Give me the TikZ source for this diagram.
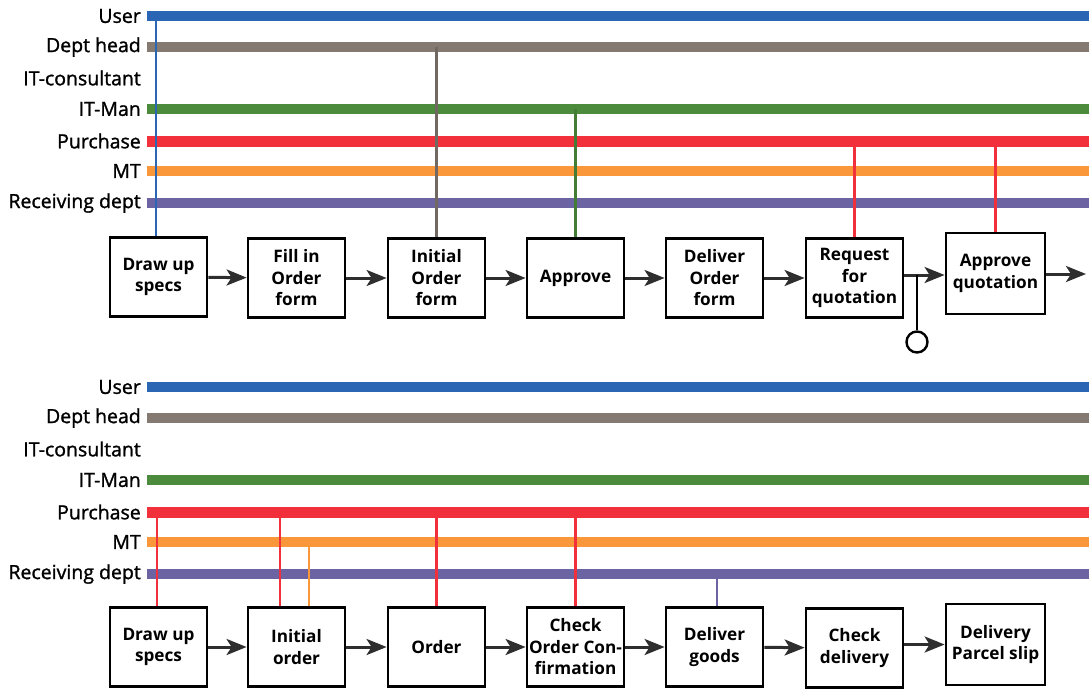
\documentclass[tikz,border=0pt]{standalone}
\usepackage{fontspec}
\setmainfont{Open Sans}
\newfontfamily\lanefont{Open Sans}[FakeBold=1.3]
\usetikzlibrary{arrows.meta}
\definecolor{cUser}{HTML}{2A66B4}
\definecolor{cHead}{HTML}{857A72}
\definecolor{cIT}{HTML}{4C8A3C}
\definecolor{cPur}{HTML}{F2303C}
\definecolor{cMT}{HTML}{F9973A}
\definecolor{cRec}{HTML}{6C64A2}
\definecolor{cArr}{HTML}{2E2E2E}
\begin{document}
\begin{tikzpicture}[x=1pt,y=-1pt,
  lanelabel/.style={anchor=east,inner sep=0pt,font=\lanefont\fontsize{19.5}{22}\selectfont},
  lane/.style={line width=9.5pt},
  wide lane/.style={line width=11pt},
  stepbox/.style={draw=black,line width=2.8pt,fill=white,minimum width=97pt,minimum height=79pt,
    align=center,inner sep=2pt,font=\bfseries\fontsize{17.2}{21.5}\selectfont},
  flow/.style={draw=cArr,line width=3pt,-{Stealth[length=20pt,width=16pt,inset=5pt]}},
  link/.style={line width=2.6pt},
]
\useasboundingbox (0,0) rectangle (1092,691);

% ---------- lanes ----------
\foreach \n/\t/\y in {ua/User/16, ha/Dept head/47, ca/IT-consultant/78, ia/IT-Man/109,
                      pa/Purchase/141, ma/MT/171, ra/Receiving dept/203,
                      ub/User/387, hb/Dept head/418, cb/IT-consultant/449, ib/IT-Man/480,
                      pb/Purchase/512, mb/MT/542, rb/Receiving dept/574}
  \node[lanelabel] (\n) at (141,\y) {\t};
\foreach \n/\c in {ua/cUser, ha/cHead, ia/cIT, ma/cMT, ra/cRec,
                   ub/cUser, hb/cHead, ib/cIT, mb/cMT, rb/cRec}
  \draw[lane,draw=\c] ([xshift=6pt]\n.east) -- ([xshift=6pt]\n.east -| 1083,0);
\foreach \n in {pa,pb}
  \draw[wide lane,draw=cPur] ([xshift=6pt]\n.east) -- ([xshift=6pt]\n.east -| 1083,0);

% ---------- process steps, upper chart ----------
\node[stepbox] (a1) at (158.5,277) {Draw up\\specs};
\node[stepbox] (a2) at (296.5,278) {Fill in\\Order\\form};
\node[stepbox] (a3) at (436.5,278) {Initial\\Order\\form};
\node[stepbox] (a4) at (575.5,278) {Approve};
\node[stepbox] (a5) at (714.5,278) {Deliver\\Order\\form};
\node[stepbox] (a6) at (854.5,278) {Request\\for\\quotation};
\node[stepbox,minimum width=99pt,minimum height=81pt] (a7) at (995.5,273.5) {Approve\\quotation};
\coordinate (aend) at (1086,274);
\coordinate (aj) at (917,275);
\node[draw=black,line width=2.4pt,circle,minimum size=21pt,inner sep=0pt] (stop) at (917,342) {};

\draw[flow] (a1) -- (a2);
\draw[flow] (a2) -- (a3);
\draw[flow] (a3) -- (a4);
\draw[flow] (a4) -- (a5);
\draw[flow] (a5) -- (a6);
\draw[flow] (a6.east |- aj) -- (a7.west |- aj);
\draw[flow] (a7.east |- aend) -- (aend);
\draw[draw=black,line width=2.4pt] (aj) -- (stop.north);

% links from lanes to steps
\draw[link,draw=cUser] (a1.north -| 156,0) -- (ua.east -| 156,0);
\draw[link,draw=cHead!85!black] (a3.north) -- (a3.north |- ha);
\draw[link,draw=cIT!90!black] (a4.north) -- (a4.north |- ia);
\draw[link,draw=cPur] (a6.north) -- (a6.north |- pa);
\draw[link,draw=cPur] (a7.north) -- (a7.north |- pa);

% ---------- process steps, lower chart ----------
\node[stepbox] (b1) at (158.5,647) {Draw up\\specs};
\node[stepbox] (b2) at (296.5,647) {Initial\\order};
\node[stepbox] (b3) at (436.5,647) {Order};
\node[stepbox] (b4) at (575.5,647) {Check\\Order Con-\\firmation};
\node[stepbox] (b5) at (714.5,647) {Deliver\\goods};
\node[stepbox] (b6) at (854.5,648) {Check\\delivery};
\node[stepbox,minimum width=99pt,minimum height=81pt] (b7) at (995.5,644.5) {Delivery\\Parcel slip};

\draw[flow] (b1) -- (b2);
\draw[flow] (b2) -- (b3);
\draw[flow] (b3) -- (b4);
\draw[flow] (b4) -- (b5);
\draw[flow] (b5) -- (b6);
\draw[flow] (b6.east |- b7.west) -- (b7.west);

% links from lanes to steps
\draw[link,draw=cPur] (b1.north -| 157,0) -- (pb.east -| 157,0);
\draw[link,draw=cPur] (b2.north -| 280,0) -- (pb.east -| 280,0);
\draw[link,draw=cMT] (b2.north -| 309,0) -- (mb.east -| 309,0);
\draw[link,draw=cPur] (b3.north) -- (b3.north |- pb);
\draw[link,draw=cPur] (b4.north) -- (b4.north |- pb);
\draw[link,draw=cRec] (b5.north -| 717,0) -- (rb.east -| 717,0);
\end{tikzpicture}
\end{document}
